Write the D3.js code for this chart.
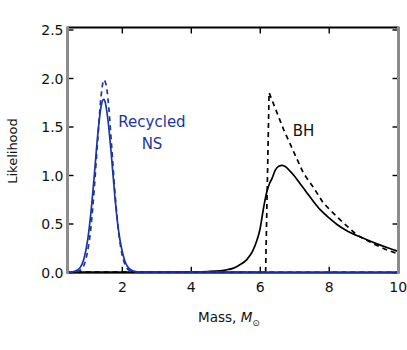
<!DOCTYPE html>
<html><head><meta charset="utf-8">
<script src="https://cdn.jsdelivr.net/npm/d3@7"></script>
<style>body{margin:0;background:#fff}svg{display:block}</style>
</head><body>
<script>
// ---- data ----
const xTicks = [2, 4, 6, 8, 10];
const yTicks = [0.0, 0.5, 1.0, 1.5, 2.0, 2.5];

const nsSolidX = [0.43, 0.5, 0.6, 0.7, 0.8, 0.9, 1.0, 1.1, 1.2, 1.3, 1.4, 1.47, 1.5, 1.6, 1.7, 1.8, 1.9, 2.0, 2.1, 2.2, 2.3, 2.4, 2.5, 3.0, 10.0];
const nsSolidY = [0.0, 0.001, 0.004, 0.018, 0.05, 0.135, 0.31, 0.6, 0.99, 1.41, 1.71, 1.78, 1.77, 1.56, 1.19, 0.77, 0.44, 0.23, 0.1, 0.04, 0.015, 0.005, 0.0, 0.0, 0.0];

const nsDashX = [0.43, 0.6, 0.7, 0.8, 0.9, 1.0, 1.1, 1.2, 1.3, 1.4, 1.48, 1.55, 1.6, 1.7, 1.8, 1.9, 2.0, 2.1, 2.2, 2.3, 2.4, 10.0];
const nsDashY = [0.0, 0.0, 0.005, 0.02, 0.07, 0.2, 0.45, 0.86, 1.36, 1.82, 1.98, 1.92, 1.78, 1.32, 0.82, 0.43, 0.19, 0.07, 0.02, 0.005, 0.0, 0.0];

const bhSolidX = [0.43, 3.0, 4.0, 4.5, 4.85, 5.0, 5.24, 5.4, 5.63, 5.8, 5.92, 6.0, 6.11, 6.2, 6.28, 6.35, 6.45, 6.55, 6.65, 6.75, 6.85, 6.98, 7.15, 7.37, 7.55, 7.76, 8.0, 8.24, 8.5, 8.92, 9.4, 9.75, 10.0];
const bhSolidY = [0.0, 0.0, 0.002, 0.005, 0.012, 0.02, 0.04, 0.07, 0.13, 0.22, 0.33, 0.43, 0.66, 0.82, 0.91, 0.96, 1.05, 1.09, 1.10, 1.085, 1.05, 1.0, 0.92, 0.815, 0.73, 0.64, 0.56, 0.49, 0.43, 0.36, 0.29, 0.245, 0.215];

const bhDashX = [0.43, 6.17, 6.27, 6.59, 6.69, 6.88, 7.27, 7.56, 7.85, 8.34, 8.82, 9.3, 9.69, 10.0];
const bhDashY = [0.0, 0.0, 1.85, 1.56, 1.47, 1.32, 1.015, 0.87, 0.707, 0.535, 0.38, 0.29, 0.226, 0.19];

const blue = "#1b35a2";
const W = 407, H = 350;
const svg = d3.select("body").append("svg").attr("width", W).attr("height", H);

const x = d3.scaleLinear().domain([0.43, 10]).range([67.7, 397.7]);
const y = d3.scaleLinear().domain([0, 2.5]).range([272, 29.5]);
const font = "DejaVu Sans, sans-serif";

const frame = {l: 67.5, r: 398.5, t: 27.5, b: 272.8};

svg.append("clipPath").attr("id", "clip").append("rect")
  .attr("x", frame.l).attr("y", frame.t - 2).attr("width", frame.r - frame.l).attr("height", frame.b - frame.t + 4);

const line = (xs, ys, c) => d3.line().curve(c || d3.curveMonotoneX).x((d, i) => x(xs[i])).y((d, i) => y(ys[i]))(xs);

// frame
svg.append("line").attr("x1", frame.l).attr("x2", frame.r).attr("y1", frame.t).attr("y2", frame.t).attr("stroke", "#000").attr("stroke-width", 1.8);
svg.append("line").attr("x1", frame.l).attr("x2", frame.r).attr("y1", frame.b).attr("y2", frame.b).attr("stroke", "#222").attr("stroke-width", 1.8);

// axes via d3
const fmtY = d3.format(".1f");
const yl = svg.append("g").attr("transform", `translate(${frame.l},0)`)
  .call(d3.axisLeft(y).tickValues(yTicks).tickSize(-6).tickPadding(4).tickFormat(fmtY));
const yr = svg.append("g").attr("transform", `translate(${frame.r},0)`)
  .call(d3.axisRight(y).tickValues(yTicks).tickSize(-6).tickFormat(""));
const xb = svg.append("g").attr("transform", `translate(0,${frame.b})`)
  .call(d3.axisBottom(x).tickValues(xTicks).tickSize(-6).tickPadding(9).tickFormat(d3.format("d")));
const xt = svg.append("g").attr("transform", `translate(0,${frame.t})`)
  .call(d3.axisTop(x).tickValues(xTicks).tickSize(-6).tickFormat(""));
[yl, yr, xb, xt].forEach(a => {
  a.select(".domain").remove();
  a.selectAll(".tick line").attr("stroke", "#000").attr("stroke-width", 1.4);
  a.selectAll("text").attr("font-family", font).attr("font-size", 14).attr("fill", "#111");
});
yl.selectAll("text").attr("dy", "0.36em");

const g = svg.append("g").attr("clip-path", "url(#clip)");
// black curves
g.append("path").attr("d", line(bhSolidX, bhSolidY)).attr("fill", "none").attr("stroke", "#000").attr("stroke-width", 1.7);
g.append("path").attr("d", line(bhDashX, bhDashY, d3.curveLinear)).attr("fill", "none").attr("stroke", "#000").attr("stroke-width", 1.7).attr("stroke-dasharray", "5,4");
// blue curves
g.append("path").attr("d", line(nsDashX, nsDashY)).attr("fill", "none").attr("stroke", blue).attr("stroke-width", 1.7).attr("stroke-dasharray", "5,4");
g.append("path").attr("d", line(nsSolidX, nsSolidY)).attr("fill", "none").attr("stroke", blue).attr("stroke-width", 1.7);

// side axes (gray, thick) on top
svg.append("line").attr("x1", frame.l).attr("x2", frame.l).attr("y1", frame.t - 1).attr("y2", frame.b + 1).attr("stroke", "#8c8c8c").attr("stroke-width", 3);
svg.append("line").attr("x1", frame.r).attr("x2", frame.r).attr("y1", frame.t - 1).attr("y2", frame.b + 1).attr("stroke", "#8c8c8c").attr("stroke-width", 3);

// axis titles
svg.append("text").attr("transform", "translate(17,151) rotate(-90)")
  .attr("text-anchor", "middle").attr("font-family", font).attr("font-size", 13).attr("fill", "#111").text("Likelihood");
const xt2 = svg.append("text").attr("x", 229).attr("y", 322).attr("text-anchor", "middle")
  .attr("font-family", font).attr("font-size", 13.5).attr("fill", "#111");
xt2.append("tspan").text("Mass, ");
xt2.append("tspan").attr("font-style", "italic").text("M");
xt2.append("tspan").attr("font-size", 9).attr("dy", 4).text("\u2299");

// labels
svg.append("text").attr("x", 152).attr("y", 127).attr("text-anchor", "middle")
  .attr("font-family", font).attr("font-size", 15).attr("fill", blue).text("Recycled");
svg.append("text").attr("x", 152).attr("y", 149).attr("text-anchor", "middle")
  .attr("font-family", font).attr("font-size", 15).attr("fill", blue).text("NS");
svg.append("text").attr("x", 303.5).attr("y", 136).attr("text-anchor", "middle")
  .attr("font-family", font).attr("font-size", 15).attr("fill", "#111").text("BH");
</script>
</body></html>
